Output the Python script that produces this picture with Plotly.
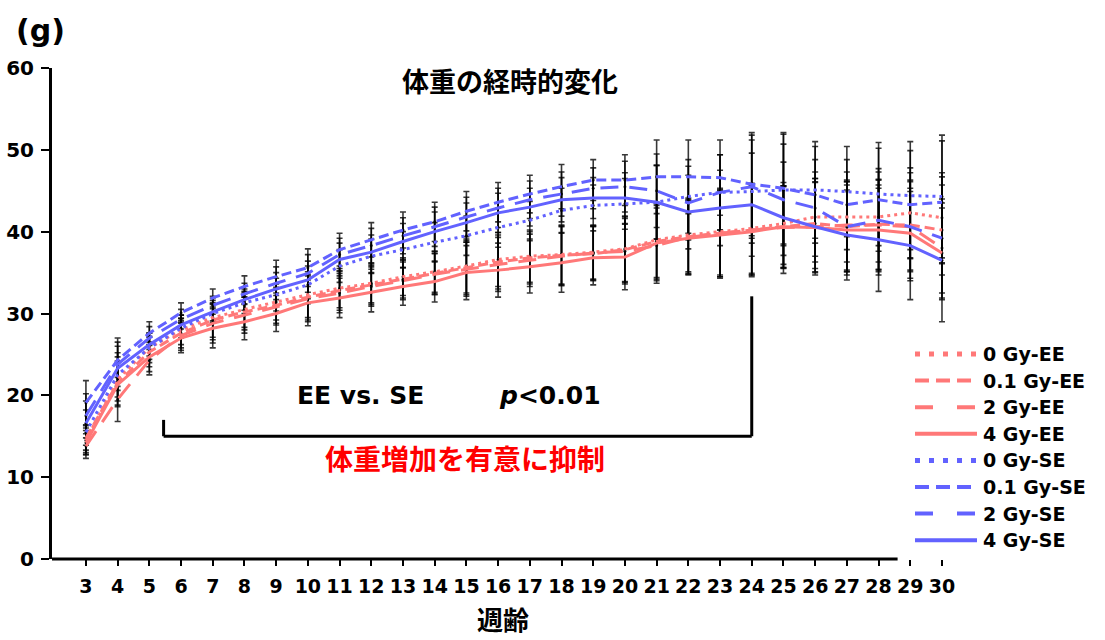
import plotly.graph_objects as go

weeks = list(range(3, 31))
tick_labels = [str(w) for w in weeks]

ee_0gy = [14.5, 22.0, 25.8, 28.0, 29.5, 30.5, 31.4, 32.3, 33.1, 33.7, 34.5, 35.1, 35.8, 36.6, 37.0, 37.2, 37.5, 37.9,
          39.0, 39.6, 40.0, 40.4, 41.0, 41.8, 41.8, 41.8, 42.3, 41.7]
ee_01gy = [14.8, 21.5, 25.3, 27.6, 29.2, 30.2, 31.0, 32.0, 32.8, 33.5, 34.2, 34.9, 35.6, 36.3, 36.8, 37.1, 37.3, 37.8,
           38.8, 39.4, 39.8, 40.2, 40.6, 41.0, 40.6, 40.9, 40.8, 40.2]
ee_2gy = [13.8, 19.5, 24.3, 27.3, 28.8, 29.8, 30.8, 31.8, 32.5, 33.3, 34.0, 34.8, 35.4, 36.0, 36.5, 37.0, 37.4, 37.6,
          38.3, 39.3, 39.8, 40.2, 40.5, 40.6, 40.8, 40.8, 40.6, 38.0]
ee_4gy = [14.2, 21.3, 24.7, 27.0, 28.2, 29.0, 30.0, 31.3, 31.9, 32.6, 33.3, 33.9, 35.0, 35.3, 35.7, 36.2, 36.8, 36.9,
          38.6, 39.2, 39.6, 40.0, 40.6, 40.5, 40.2, 40.2, 39.8, 37.4]
se_0gy = [15.5, 22.5, 25.8, 28.2, 30.0, 31.3, 32.3, 33.5, 35.8, 37.0, 37.8, 38.7, 39.5, 40.5, 41.4, 42.6, 43.2, 43.4,
          43.6, 44.3, 44.8, 44.9, 45.1, 45.1, 44.9, 44.6, 44.4, 44.3]
se_01gy = [19.1, 24.3, 27.6, 30.1, 31.9, 33.3, 34.5, 35.6, 37.8, 39.0, 40.2, 41.2, 42.5, 43.6, 44.6, 45.5, 46.3, 46.3,
           46.7, 46.7, 46.6, 45.8, 45.3, 44.5, 43.3, 43.9, 43.3, 43.6]
se_2gy = [17.5, 23.8, 27.0, 29.3, 31.0, 32.4, 33.7, 34.9, 37.2, 38.3, 39.5, 40.6, 41.8, 42.9, 43.9, 44.6, 45.3, 45.5,
          45.0, 43.5, 44.8, 45.5, 43.9, 42.9, 40.6, 41.4, 40.6, 39.2]
se_4gy = [16.6, 23.3, 26.2, 28.6, 30.2, 31.7, 33.0, 34.1, 36.6, 37.5, 38.8, 40.0, 41.1, 42.3, 43.0, 43.9, 44.1, 44.1,
          43.6, 42.4, 42.9, 43.3, 41.7, 40.6, 39.6, 39.0, 38.3, 36.5]

sd_ee = [1.5, 2.7, 1.8, 1.8, 2.4, 2.2, 2.2, 2.8, 2.4, 2.4, 2.3, 2.5, 3.3, 3.3, 3.2, 3.6, 3.3, 4.0,
         4.6, 4.5, 5.3, 5.5, 5.0, 5.5, 5.5, 5.5, 5.5, 5.5]
sd_se = [2.7, 2.7, 1.4, 1.2, 1.1, 1.3, 2.0, 2.3, 2.0, 2.1, 2.2, 2.4, 2.4, 2.4, 2.3, 2.7, 2.5, 3.1,
         4.5, 4.5, 4.6, 6.3, 6.8, 5.9, 5.5, 6.3, 6.6, 7.5]

RED = "#FF7878"
BLUE = "#6262FF"

# name, values, sd, colour, plot dash, legend dash, legend width
series = [
    ("0 Gy-EE", ee_0gy, sd_ee, RED, "3px,4px", "5px,9px", 5),
    ("0.1 Gy-EE", ee_01gy, sd_ee, RED, "10px,5px", "14px,7px", 4),
    ("2 Gy-EE", ee_2gy, sd_ee, RED, "18px,11px", "18px,24px", 4),
    ("4 Gy-EE", ee_4gy, sd_ee, RED, "solid", "solid", 4),
    ("0 Gy-SE", se_0gy, sd_se, BLUE, "3px,4px", "5px,9px", 5),
    ("0.1 Gy-SE", se_01gy, sd_se, BLUE, "10px,5px", "14px,7px", 4),
    ("2 Gy-SE", se_2gy, sd_se, BLUE, "18px,11px", "18px,24px", 4),
    ("4 Gy-SE", se_4gy, sd_se, BLUE, "solid", "solid", 4),
]

LATIN = "DejaVu Sans, Noto Sans CJK JP"
CJK = "Noto Sans CJK JP"

# plot area in pixels
L, R, T, B = 52, 961, 68, 559
PW, PH = R - L, B - T


def px(x):
    return (x - L) / PW


def py(y):
    return (B - y) / PH


fig = go.Figure()

for name, vals, sd, col, dash, ldash, lw in series:
    fig.add_trace(go.Scatter(
        x=weeks, y=vals, mode="markers", showlegend=False, hoverinfo="skip",
        marker=dict(size=3, color="rgba(0,0,0,0.8)"),
        error_y=dict(type="data", array=sd, visible=True, color="rgba(0,0,0,0.78)",
                     thickness=1.6, width=3),
    ))

for name, vals, sd, col, dash, ldash, lw in series:
    fig.add_trace(go.Scatter(
        x=weeks, y=vals, mode="lines", name=name, showlegend=False,
        line=dict(color=col, width=3, dash=dash),
    ))

fig.update_layout(
    width=1105, height=640,
    margin=dict(l=L, r=1105 - R, t=T, b=640 - B),
    paper_bgcolor="white", plot_bgcolor="white",
    font=dict(family=LATIN, color="black"),
    xaxis=dict(range=[1.93, 30.6], tickvals=weeks, ticktext=tick_labels,
               showgrid=False, zeroline=False, showline=False, automargin=False,
               ticks="outside", ticklen=6, tickwidth=2, tickcolor="black",
               tickfont=dict(size=19, family=LATIN, weight="bold"), ticklabelstandoff=4),
    yaxis=dict(range=[0, 60], tickvals=[0, 10, 20, 30, 40, 50, 60], automargin=False,
               showgrid=False, zeroline=False, showline=True, linecolor="black", linewidth=3,
               ticks="outside", ticklen=8, tickwidth=2, tickcolor="black",
               tickfont=dict(size=20, family=LATIN, weight="bold"), ticklabelstandoff=3),
    showlegend=False,
)

# x-axis baseline (hidden behind the legend box on the right in the original)
fig.add_shape(type="line", xref="x", yref="paper", x0=1.93, x1=28.6, y0=0, y1=0,
              line=dict(color="black", width=3))

# bracket for the significance comparison
bracket_x0, bracket_x1 = 5.45, 24.0
bracket_y, left_top, right_top = 15.0, 17.0, 32.1
fig.add_shape(type="line", xref="x", yref="y", x0=bracket_x0, x1=bracket_x1, y0=bracket_y, y1=bracket_y,
              line=dict(color="black", width=3))
fig.add_shape(type="line", xref="x", yref="y", x0=bracket_x0, x1=bracket_x0, y0=bracket_y, y1=left_top,
              line=dict(color="black", width=3))
fig.add_shape(type="line", xref="x", yref="y", x0=bracket_x1, x1=bracket_x1, y0=bracket_y, y1=right_top,
              line=dict(color="black", width=3))

# legend drawn by hand (long line samples like the original)
leg_y0, leg_dy = 354, 26.6
for i, (name, vals, sd, col, dash, ldash, lw) in enumerate(series):
    yy = leg_y0 + i * leg_dy
    fig.add_shape(type="line", xref="paper", yref="paper", x0=px(915), x1=px(977), y0=py(yy), y1=py(yy),
                  line=dict(color=col, width=lw, dash=ldash))
    fig.add_annotation(text=name, xref="paper", yref="paper", x=px(981), y=py(yy),
                       xanchor="left", yanchor="middle", showarrow=False,
                       font=dict(size=19, family=LATIN, color="black", weight="bold"))

ann = [
    dict(text="(g)", x=40, y=30, size=30, family=LATIN, color="black"),
    dict(text="体重の経時的変化", x=510, y=80, size=27, family=CJK, color="black"),
    dict(text="EE vs. SE", x=360, y=395, size=25, family=LATIN, color="black"),
    dict(text="<i>p</i><0.01", x=550, y=395, size=25, family=LATIN, color="black"),
    dict(text="体重増加を有意に抑制", x=465, y=458, size=28, family=CJK, color="#FF0000"),
    dict(text="週齢", x=503, y=618, size=26, family=CJK, color="black"),
]
for a in ann:
    fig.add_annotation(text=a["text"], xref="paper", yref="paper",
                       x=px(a["x"]), y=py(a["y"]),
                       xanchor="center", yanchor="middle", showarrow=False,
                       font=dict(size=a["size"], family=a["family"], color=a["color"], weight="bold"))

fig.write_html("out.html", config={"displayModeBar": False},
               post_script="document.body.style.margin='0px';document.body.style.overflow='hidden';")
